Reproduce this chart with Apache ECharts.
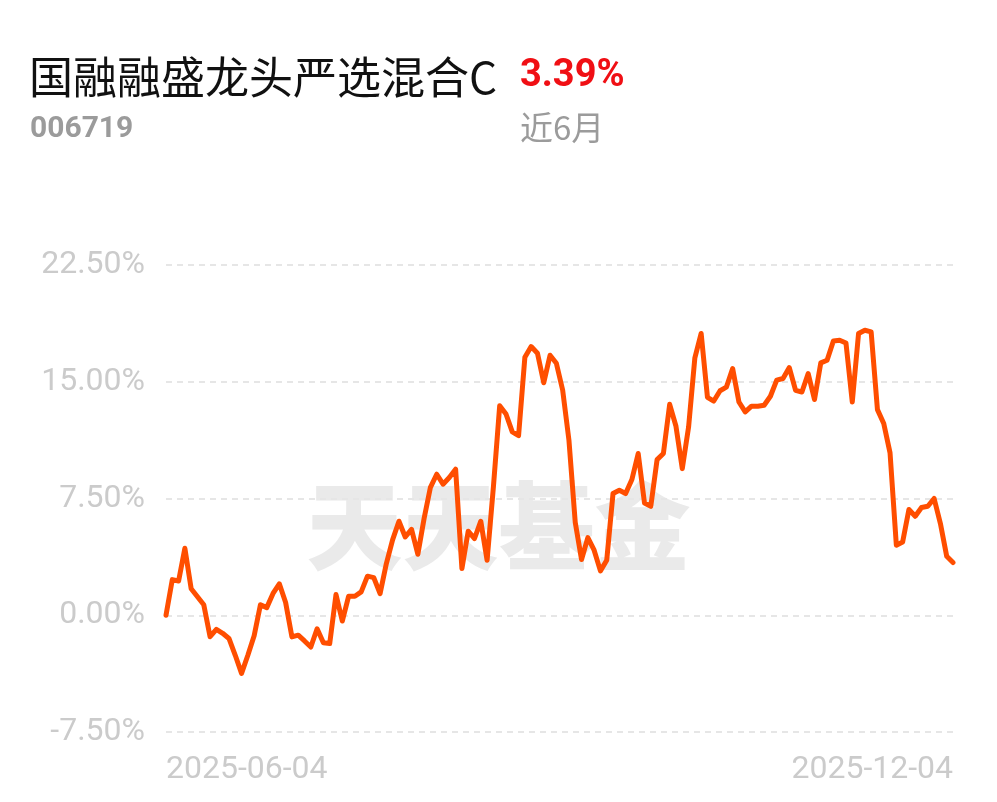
<!DOCTYPE html>
<html>
<head>
<meta charset="utf-8">
<style>
html,body{margin:0;padding:0;background:#fff;}
#chart{width:997px;height:802px;}
</style>
<script src="https://cdn.jsdelivr.net/npm/echarts@6/dist/echarts.min.js"></script>
</head>
<body>
<div id="chart"></div>
<script>
// trading days by month (2025-06-04 .. 2025-12-04)
const tradingDays = [
  ['06', [4,5,6,9,10,11,12,13,16,17,18,19,20,23,24,25,26,27,30]],
  ['07', [1,2,3,4,7,8,9,10,11,14,15,16,17,18,21,22,23,24,25,28,29,30,31]],
  ['08', [1,4,5,6,7,8,11,12,13,14,15,18,19,20,21,22,25,26,27,28,29]],
  ['09', [1,2,3,4,5,8,9,10,11,12,15,16,17,18,19,22,23,24,25,26,29,30]],
  ['10', [9,10,13,14,15,16,17,20,21,22,23,24,27,28,29,30,31]],
  ['11', [3,4,5,6,7,10,11,12,13,14,17,18,19,20,21,24,25,26,27,28]],
  ['12', [1,2,3,4]]
];
const categories = [];
tradingDays.forEach(([m, days]) => days.forEach(d => categories.push('2025-' + m + '-' + String(d).padStart(2,'0'))));

// cumulative return (%)
const returns = [
  0.00, 2.29, 2.20, 4.30, 1.70, 1.19, 0.67, -1.38, -0.91, -1.16,
  -1.49, -2.57, -3.73, -2.57, -1.32, 0.67, 0.49, 1.40, 2.02, 0.82,
  -1.39, -1.28, -1.65, -2.04, -0.87, -1.77, -1.82, 1.33, -0.37, 1.22,
  1.22, 1.50, 2.51, 2.42, 1.39, 3.32, 4.86, 6.04, 5.03, 5.51,
  3.92, 6.23, 8.22, 9.06, 8.42, 8.85, 9.38, 3.00, 5.40, 4.93,
  6.04, 3.53, 8.24, 13.46, 12.93, 11.78, 11.54, 16.57, 17.26, 16.83,
  14.94, 16.70, 16.19, 14.47, 11.24, 5.97, 3.58, 4.99, 4.18, 2.85,
  3.53, 7.82, 8.03, 7.82, 8.72, 10.39, 7.21, 7.00, 10.00, 10.39,
  13.55, 12.14, 9.42, 12.08, 16.54, 18.10, 14.00, 13.76, 14.42, 14.65,
  15.85, 13.70, 13.06, 13.43, 13.43, 13.49, 14.07, 15.10, 15.21, 15.91,
  14.45, 14.34, 15.53, 13.86, 16.21, 16.38, 17.62, 17.67, 17.49, 13.70,
  18.10, 18.31, 18.20, 13.21, 12.32, 10.43, 4.50, 4.71, 6.79, 6.36,
  6.92, 7.00, 7.50, 5.89, 3.79, 3.39
];

const fundName = '国融融盛龙头严选混合C';
const fundCode = '006719';
const periodReturn = '3.39%';
const periodLabel = '近6月';
const watermark = '天天基金';

const chart = echarts.init(document.getElementById('chart'));
const n = categories.length;
chart.setOption({
  animation: false,
  backgroundColor: '#fff',
  grid: { left: 166, right: 44, top: 265, bottom: 70, containLabel: false },
  graphic: [
    { type: 'text', left: 29, top: 55, z: 10,
      style: { text: fundName, fill: '#111', font: '400 44px "Noto Sans CJK SC"' } },
    { type: 'text', left: 520, top: 57, z: 10,
      style: { text: periodReturn, fill: '#f00f14', font: 'bold 38px Roboto' } },
    { type: 'text', left: 30, top: 114, z: 10,
      style: { text: fundCode, fill: '#9b9b9b', font: 'bold 30px Roboto' } },
    { type: 'text', left: 520, top: 111, z: 10,
      style: { text: periodLabel, fill: '#9b9b9b', font: '400 33px "Noto Sans CJK SC"' } },
    { type: 'text', left: 'center', top: 478, z: -1, silent: true,
      style: { text: watermark, fill: '#eaeaea', font: '900 96px "Noto Sans CJK SC"' } }
  ],
  xAxis: {
    type: 'category',
    data: categories,
    boundaryGap: false,
    axisLine: { show: false },
    axisTick: { show: false },
    splitLine: { show: false },
    axisLabel: {
      interval: (i) => i === 0 || i === n - 1,
      showMinLabel: true, showMaxLabel: true,
      alignMinLabel: 'left', alignMaxLabel: 'right',
      color: '#cbcbcb', fontSize: 32, fontFamily: 'Roboto', margin: 22
    }
  },
  yAxis: {
    type: 'value',
    min: -7.5, max: 22.5, interval: 7.5,
    axisLine: { show: false },
    axisTick: { show: false },
    axisLabel: {
      formatter: v => v.toFixed(2) + '%',
      color: '#cbcbcb', fontSize: 32, fontFamily: 'Roboto', margin: 21
    },
    splitLine: { show: true, lineStyle: { color: '#e6e6e6', width: 2, type: [6, 5] } }
  },
  series: [{
    type: 'line',
    data: returns,
    symbol: 'none',
    smooth: false,
    lineStyle: { color: '#ff4e00', width: 5, join: 'round', cap: 'round' },
    z: 5
  }]
});
</script>
</body>
</html>
